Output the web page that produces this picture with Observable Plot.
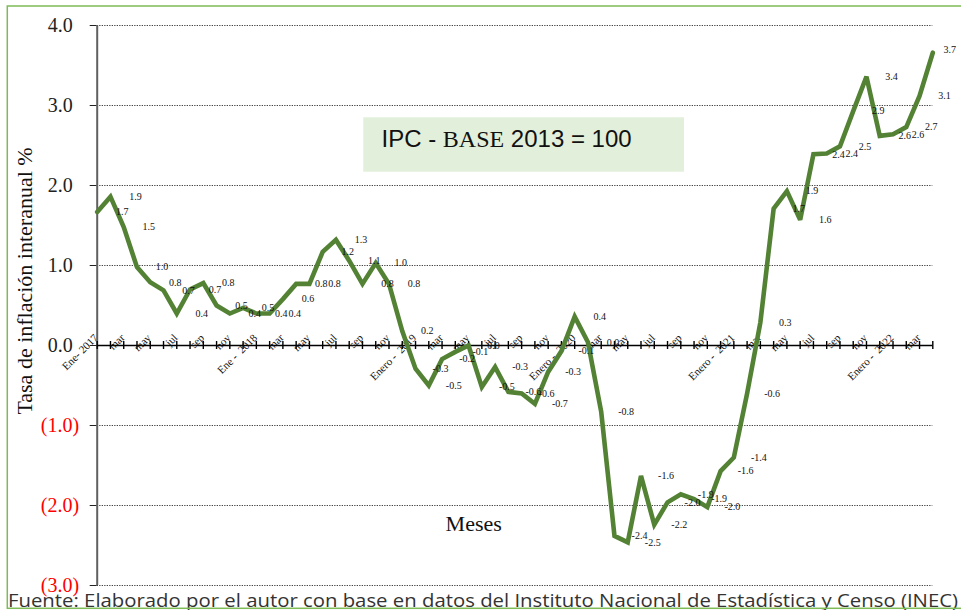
<!DOCTYPE html>
<html><head><meta charset="utf-8">
<script src="https://cdn.jsdelivr.net/npm/d3@7"></script>
<script src="https://cdn.jsdelivr.net/npm/@observablehq/plot@0.6"></script>
<style>body{margin:0;background:#fff} svg{display:block}</style>
</head><body><div id="chart"></div>
<script>
// Monthly year-on-year inflation (%), Jan 2017 – Apr 2022
const values = [
  1.67, 1.86, 1.48, 0.98, 0.79, 0.69, 0.40, 0.70, 0.78, 0.50, 0.40, 0.47,
  0.40, 0.40, 0.58, 0.77, 0.77, 1.17, 1.32, 1.06, 0.77, 1.03, 0.77, 0.18,
  -0.29, -0.50, -0.17, -0.08, 0.00, -0.52, -0.27, -0.58, -0.60, -0.73, -0.33, -0.07,
  0.36, 0.04, -0.83, -2.38, -2.46, -1.63, -2.24, -1.96, -1.86, -1.92, -2.02, -1.57,
  -1.40, -0.60, 0.29, 1.71, 1.93, 1.57, 2.39, 2.40, 2.49, 2.93, 3.36, 2.62,
  2.64, 2.73, 3.12, 3.66
];
// Labels of every second month
const tickLabels = [
  "Ene- 2017", "mar", "may", "jul", "sep", "nov",
  "Ene -\u00a0\u00a02018", "mar", "may", "jul", "sep", "nov",
  "Enero -\u00a0\u00a02019", "mar", "may", "jul", "sep", "nov",
  "Enero -\u00a0\u00a02020", "mar", "may", "jul", "sep", "nov",
  "Enero -\u00a0\u00a02021", "mar", "may", "jul", "sep", "nov",
  "Enero -\u00a0\u00a02022", "mar"
];
const yTicks = [4, 3, 2, 1, 0, -1, -2, -3];
const gridValues = [4, 3, 2, 1, -1, -2, -3];
const yTitle = "Tasa de inflación interanual %";
const xTitle = "Meses";
const boxParts = ["IPC - ", "BASE", " 2013 = 100"];
const source = "Fuente: Elaborado por el autor con base en datos del Instituto Nacional de Estadística y Censo (INEC)";

const data = values.map((v, i) => ({i, v}));
const months = values.map((v, i) => i);
const xLabelData = tickLabels.map((label, k) => ({i: k * 2, label}));
const lastIdx = values.length - 1;

const serif = "Liberation Serif, Times New Roman, serif";

const plot = Plot.plot({
  width: 961,
  height: 610,
  marginLeft: 96.7,
  marginRight: 28.7,
  marginTop: 25,
  marginBottom: 25,
  style: {background: "white", fontFamily: serif, overflow: "visible"},
  x: {type: "linear", domain: [0, 63], axis: null},
  y: {domain: [-3, 4]},
  marks: [
    Plot.ruleY(gridValues, {stroke: "#444", strokeWidth: 1, strokeDasharray: "1.3,1.2"}),
    Plot.axisY({ticks: yTicks, tickSize: 7, tickFormat: () => "", label: null, stroke: "#222"}),
    Plot.ruleX([0], {y1: -3, y2: 4, stroke: "#606060", strokeWidth: 2}),
    Plot.ruleY([0], {stroke: "#000", strokeWidth: 1.6}),
    Plot.ruleX(months, {x: d => d, y1: -0.05, y2: 0.05, stroke: "#000", strokeWidth: 1.4}),
    Plot.text(xLabelData, {x: "i", y: () => 0, text: "label", rotate: -45, textAnchor: "end",
      dx: -1, dy: -9.5, fontSize: 11, fontFamily: serif, fill: "#111"}),
    Plot.text(yTicks.filter(d => d >= 0), {y: d => d, text: d => d.toFixed(1), frameAnchor: "left",
      textAnchor: "end", dx: -24.5, fontSize: 20, fontFamily: serif, fill: "#222"}),
    Plot.text(yTicks.filter(d => d < 0), {y: d => d, text: d => `(${Math.abs(d).toFixed(1)})`, frameAnchor: "left",
      textAnchor: "end", dx: -18, fontSize: 20, fontFamily: serif, fill: "#FF0000"}),
    Plot.line(data, {x: "i", y: "v", stroke: "#548235", strokeWidth: 4.6, strokeLinejoin: "miter", strokeMiterlimit: 3}),
    Plot.text(data.filter(d => d.i < lastIdx), {x: "i", y: "v", text: d => d.v.toFixed(1), dx: 25, fontSize: 10, fontFamily: serif, fill: "#111"}),
    Plot.text(data.filter(d => d.i === lastIdx), {x: "i", y: "v", text: d => d.v.toFixed(1), dx: 17, dy: -3, fontSize: 10, fontFamily: serif, fill: "#111"})
  ]
});

document.getElementById("chart").appendChild(plot);
const svg = d3.select(plot);

// Annotation box
const g = svg.append("g");
g.append("rect").attr("x", 363.3).attr("y", 117.3).attr("width", 320.7).attr("height", 54.4).attr("fill", "#E2EFDA");
const t = g.append("text").attr("x", 381.5).attr("y", 146.7).attr("font-size", 24).attr("fill", "#111")
  .attr("text-anchor", "start");
t.append("tspan").attr("font-family", "Liberation Sans, Arial, sans-serif").text(boxParts[0]);
t.append("tspan").attr("font-family", serif).text(boxParts[1]);
t.append("tspan").attr("font-family", "Liberation Sans, Arial, sans-serif").text(boxParts[2]);

// Axis titles
svg.append("text").attr("transform", "translate(31.5,281) rotate(-90)").attr("text-anchor", "middle")
  .attr("font-family", serif).attr("font-size", 22).attr("fill", "#111").text(yTitle);
svg.append("text").attr("x", 473.7).attr("y", 531).attr("text-anchor", "middle")
  .attr("font-family", serif).attr("font-size", 22).attr("fill", "#111").text(xTitle);

// Source line
svg.append("text").attr("x", 8).attr("y", 606.5).attr("text-anchor", "start")
  .attr("font-family", "Open Sans, Noto Sans, sans-serif")
  .attr("font-size", 19).attr("fill", "#333").attr("textLength", 950).attr("lengthAdjust", "spacingAndGlyphs").text(source);

// Outer border
svg.append("rect").attr("x", 7.3).attr("y", 6).attr("width", 965).attr("height", 602.3)
  .attr("fill", "none").attr("stroke", "#7DBB57").attr("stroke-width", 1.5);
</script>
</body></html>
